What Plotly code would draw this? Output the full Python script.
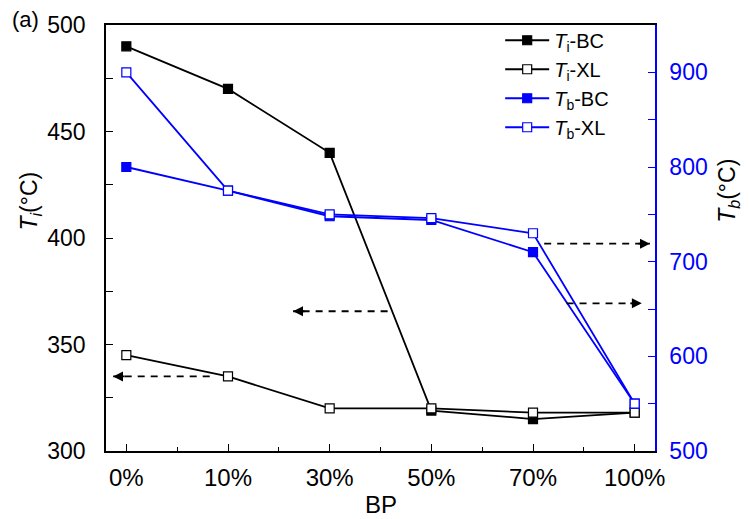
import plotly.graph_objects as go

# BP content categories
categories = ["0%", "10%", "30%", "50%", "70%", "100%"]
xpos = list(range(len(categories)))

# Ignition temperature Ti (left axis, °C)
ti_bc = [490, 470, 440, 319, 315, 318]
ti_xl = [345, 335, 320, 320, 318, 318]

# Burnout temperature Tb (right axis, °C)
tb_bc = [800, 775, 748, 744, 710, 550]
tb_xl = [900, 775, 750, 746, 730, 550]

BLUE = "#0000FF"
FONT = "Liberation Sans, Arial, Helvetica, sans-serif"
TICK_SIZE = 23

fig = go.Figure()


def series(y, name, color, filled, axis):
    return go.Scatter(
        x=xpos, y=y, name=name, yaxis=axis, mode="lines+markers",
        line=dict(color=color, width=1.8),
        marker=dict(symbol="square", size=9,
                    color=color if filled else "white",
                    line=dict(color=color, width=1.2)),
        cliponaxis=False,
    )


fig.add_trace(series(ti_bc, "<i>T</i><sub>i</sub>-BC", "black", True, "y"))
fig.add_trace(series(ti_xl, "<i>T</i><sub>i</sub>-XL", "black", False, "y"))
fig.add_trace(series(tb_bc, "<i>T</i><sub>b</sub>-BC", BLUE, True, "y2"))
fig.add_trace(series(tb_xl, "<i>T</i><sub>b</sub>-XL", BLUE, False, "y2"))

# Dashed guide arrows pointing to the axis each curve belongs to
# (tail_x, tip_x, y, axis)
arrows = [
    (0.82, -0.13, 335, "y"),
    (2.57, 1.64, 365.6, "y"),
    (4.11, 5.15, 719, "y2"),
    (4.33, 5.07, 656, "y2"),
]
for tail, tip, yv, ax in arrows:
    fig.add_trace(go.Scatter(
        x=[tail, tip], y=[yv, yv], yaxis=ax, mode="lines",
        line=dict(color="black", width=1.8, dash="7px,6px"),
        showlegend=False, hoverinfo="skip", cliponaxis=False,
    ))
    direction = 1 if tip > tail else -1
    fig.add_annotation(
        x=tip, y=yv, xref="x", yref=ax,
        ax=-13 * direction, ay=0, axref="pixel", ayref="pixel",
        text="", showarrow=True, arrowhead=2, arrowsize=1.1,
        arrowwidth=1.8, arrowcolor="black", standoff=0,
    )

fig.update_layout(
    width=750, height=519,
    margin=dict(l=106, r=95, t=19, b=68),
    paper_bgcolor="white", plot_bgcolor="white",
    font=dict(family=FONT, size=TICK_SIZE, color="black"),
    showlegend=True,
    legend=dict(
        x=0.718, y=1.01, xanchor="left", yanchor="top",
        bgcolor="rgba(0,0,0,0)", font=dict(size=20),
        itemwidth=44, tracegroupgap=0,
    ),
    xaxis=dict(
        range=[-0.2, 5.2], tickvals=xpos, ticktext=categories,
        showline=True, linecolor="black", linewidth=1.5, mirror=True,
        ticks="inside", ticklen=7, tickwidth=1.3, tickcolor="black",
        minor=dict(ticks="inside", ticklen=4, dtick=0.5, tick0=0.5,
                   tickcolor="black", tickwidth=1.3),
        showgrid=False, zeroline=False,
        tickfont=dict(size=24),
        ticklabelstandoff=4,
    ),
    yaxis=dict(
        range=[300, 500], dtick=50, tick0=300,
        showline=True, linecolor="black", linewidth=1.5,
        ticks="inside", ticklen=7, tickwidth=1.3, tickcolor="black",
        minor=dict(ticks="inside", ticklen=7, dtick=25,
                   tickcolor="black", tickwidth=1.3),
        showgrid=False, zeroline=False,
        tickfont=dict(size=TICK_SIZE),
        ticklabelstandoff=14,
    ),
    yaxis2=dict(
        range=[500, 950], dtick=100, tick0=500,
        overlaying="y", side="right", anchor="x",
        showline=True, linecolor=BLUE, linewidth=1.5,
        ticks="inside", ticklen=7, tickwidth=1.3, tickcolor=BLUE,
        minor=dict(ticks="inside", ticklen=7, dtick=50,
                   tickcolor=BLUE, tickwidth=1.3),
        tickfont=dict(color=BLUE, size=TICK_SIZE),
        showgrid=False, zeroline=False,
        ticklabelstandoff=8,
    ),
)

# Axis titles and panel label
fig.add_annotation(
    x=-0.138, y=0.586, xref="paper", yref="paper",
    xanchor="center", yanchor="middle",
    text="<i>T<sub>i</sub></i>(°C)", textangle=-90, showarrow=False,
    font=dict(size=23, color="black"),
)
fig.add_annotation(
    x=1.135, y=0.611, xref="paper", yref="paper",
    xanchor="center", yanchor="middle",
    text="<i>T<sub>b</sub></i>(°C)", textangle=-90, showarrow=False,
    font=dict(size=23, color="black"),
)
fig.add_annotation(
    x=0.5, y=-0.125, xref="paper", yref="paper",
    xanchor="center", yanchor="middle",
    text="BP", showarrow=False, font=dict(size=24, color="black"),
)
fig.add_annotation(
    x=-0.175, y=1.012, xref="paper", yref="paper",
    xanchor="left", yanchor="middle",
    text="(a)", showarrow=False, font=dict(size=22, color="black"),
)

fig.write_html("out.html")
